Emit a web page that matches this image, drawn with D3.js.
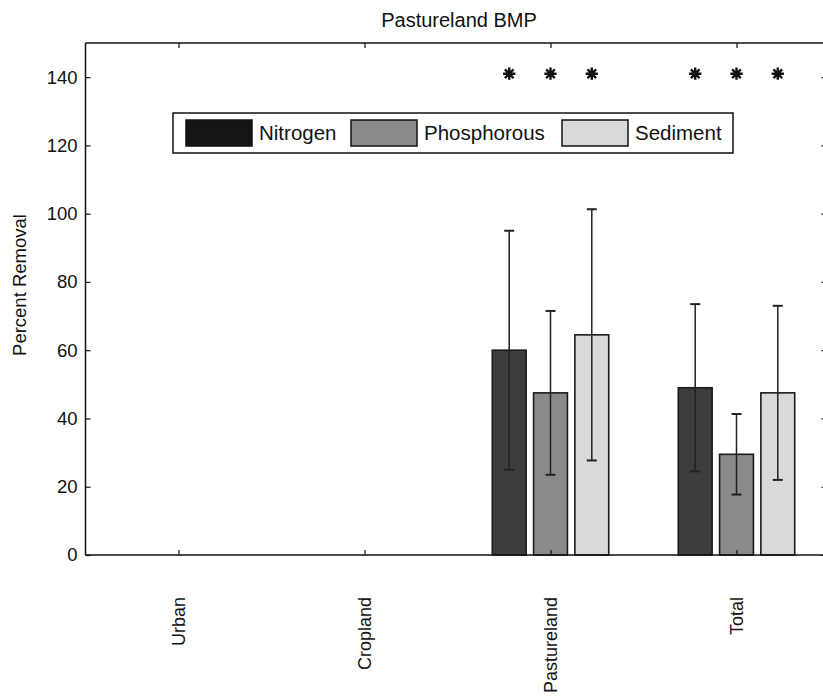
<!DOCTYPE html>
<html>
<head>
<meta charset="utf-8">
<script src="https://cdn.jsdelivr.net/npm/d3@7/dist/d3.min.js"></script>
<style>
  body { margin: 0; background: #fff; }
  svg { display: block; }
  text { font-family: "Liberation Sans", Arial, Helvetica, sans-serif; fill: #111; }
</style>
</head>
<body>
<svg id="chart" width="823" height="698"></svg>
<script>
// ---- data ----
const categories = ["Urban", "Cropland", "Pastureland", "Total"];
const seriesNames = ["Nitrogen", "Phosphorous", "Sediment"];
const nitrogen    = [0, 0, 60.0, 49.0];
const phosphorous = [0, 0, 47.5, 29.5];
const sediment    = [0, 0, 64.5, 47.5];
const nitrogenErr    = [0, 0, 35.0, 24.5];
const phosphorousErr = [0, 0, 24.0, 11.8];
const sedimentErr    = [0, 0, 36.8, 25.5];
const significance   = [null, null, 141, 141]; // asterisk height per group
const yTicks = [0, 20, 40, 60, 80, 100, 120, 140];

const values = [nitrogen, phosphorous, sediment];
const errors = [nitrogenErr, phosphorousErr, sedimentErr];
const colors = ["#3c3c3c", "#8a8a8a", "#d9d9d9"];

// ---- layout ----
const svg = d3.select("#chart");
const pLeft = 85.5, pRight = 829.5, pTop = 43, pBottom = 555;

const x = d3.scaleLinear().domain([0.5, 4.5]).range([pLeft, pRight]);
const y = d3.scaleLinear().domain([0, 150]).range([pBottom, pTop]);

const offsets = [-0.222, 0, 0.222];
const barW = 0.182;

const fs = 18;

// title
svg.append("text")
  .attr("x", 459).attr("y", 27)
  .attr("text-anchor", "middle")
  .attr("font-size", 20)
  .text("Pastureland BMP");

// bars
const g = svg.append("g");
values.forEach((vals, s) => {
  vals.forEach((v, i) => {
    if (v <= 0) return;
    const x0 = x(i + 1 + offsets[s] - barW / 2);
    const x1 = x(i + 1 + offsets[s] + barW / 2);
    g.append("rect")
      .attr("x", x0).attr("y", y(v))
      .attr("width", x1 - x0).attr("height", y(0) - y(v))
      .attr("fill", colors[s])
      .attr("stroke", "#1a1a1a").attr("stroke-width", 1.6);
  });
});

// error bars
values.forEach((vals, s) => {
  vals.forEach((v, i) => {
    const e = errors[s][i];
    if (!e) return;
    const cx = x(i + 1 + offsets[s]);
    const capHalf = 5;
    g.append("line")
      .attr("x1", cx).attr("x2", cx)
      .attr("y1", y(v + e)).attr("y2", y(v - e))
      .attr("stroke", "#222").attr("stroke-width", 1.5);
    [v + e, v - e].forEach(t => {
      g.append("line")
        .attr("x1", cx - capHalf).attr("x2", cx + capHalf)
        .attr("y1", y(t)).attr("y2", y(t))
        .attr("stroke", "#222").attr("stroke-width", 2);
    });
  });
});

// asterisks (MATLAB '*' marker: + and x)
const starSymbol = {
  draw(ctx, size) {
    const r = Math.sqrt(size) / 2;
    const d = r * Math.SQRT1_2;
    ctx.moveTo(-r, 0); ctx.lineTo(r, 0);
    ctx.moveTo(0, -r); ctx.lineTo(0, r);
    ctx.moveTo(-d, -d); ctx.lineTo(d, d);
    ctx.moveTo(-d, d); ctx.lineTo(d, -d);
  }
};
const star = d3.symbol().type(starSymbol).size(150);
significance.forEach((h, i) => {
  if (h == null) return;
  offsets.forEach(o => {
    svg.append("path")
      .attr("d", star())
      .attr("transform", `translate(${x(i + 1 + o)},${y(h)})`)
      .attr("fill", "none").attr("stroke", "#111").attr("stroke-width", 2.4);
  });
});

// axes
const yAxisL = d3.axisLeft(y).tickValues(yTicks).tickSize(-5).tickPadding(8).tickFormat(d3.format("d"));
const gl = svg.append("g").attr("transform", `translate(${pLeft},0)`).call(yAxisL);
const yAxisR = d3.axisRight(y).tickValues(yTicks).tickSize(-8).tickFormat("");
const gr = svg.append("g").attr("transform", `translate(${pRight},0)`).call(yAxisR);
const xAxisB = d3.axisBottom(x).tickValues([1, 2, 3, 4]).tickSize(-5).tickFormat("");
const gb = svg.append("g").attr("transform", `translate(0,${pBottom})`).call(xAxisB);
const xAxisT = d3.axisTop(x).tickValues([1, 2, 3, 4]).tickSize(-5).tickFormat("");
const gt = svg.append("g").attr("transform", `translate(0,${pTop})`).call(xAxisT);

[gl, gr, gb, gt].forEach(a => {
  a.selectAll(".domain").attr("stroke", "#111").attr("stroke-width", 1.5);
  a.selectAll(".tick line").attr("stroke", "#111").attr("stroke-width", 1.2);
});
gl.selectAll(".tick text").attr("font-size", 18.5).attr("fill", "#111")
  .attr("font-family", "'Liberation Sans', Arial, sans-serif");
gl.select(".domain").attr("d", `M0,${pTop}V${pBottom}`);
gr.select(".domain").attr("d", `M0,${pTop}V${pBottom}`);
gb.select(".domain").attr("d", `M${pLeft},0H${pRight}`);
gt.select(".domain").attr("d", `M${pLeft},0H${pRight}`);

// x category labels (rotated)
categories.forEach((c, i) => {
  svg.append("text")
    .attr("transform", `translate(${x(i + 1)},597) rotate(-90)`)
    .attr("text-anchor", "end")
    .attr("dy", "0.35em")
    .attr("font-size", fs)
    .text(c);
});

// y label
svg.append("text")
  .attr("transform", `translate(20,285) rotate(-90)`)
  .attr("text-anchor", "middle")
  .attr("dy", "0.35em")
  .attr("font-size", 18.5)
  .text("Percent Removal");

// legend
const lg = svg.append("g");
lg.append("rect").attr("x", 173).attr("y", 113).attr("width", 560).attr("height", 40)
  .attr("fill", "#fff").attr("stroke", "#111").attr("stroke-width", 1.5);
const swX = [186, 351, 562];
swX.forEach((sx, s) => {
  lg.append("rect").attr("x", sx).attr("y", 120).attr("width", 66).attr("height", 26)
    .attr("fill", s === 0 ? "#151515" : colors[s]).attr("stroke", "#111").attr("stroke-width", 1.5);
  lg.append("text").attr("x", sx + 73).attr("y", 133).attr("dy", "0.35em")
    .attr("font-size", 20.5).text(seriesNames[s]);
});
</script>
</body>
</html>
